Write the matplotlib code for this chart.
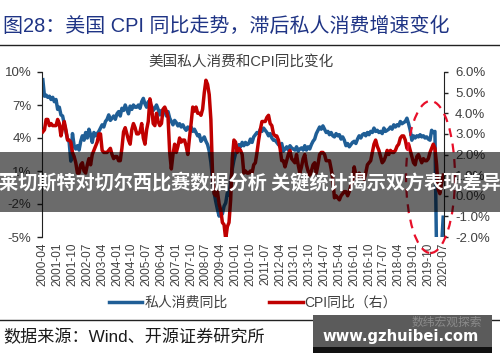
import matplotlib
matplotlib.use('Agg')
import matplotlib.pyplot as plt
from matplotlib.patches import Ellipse, Rectangle
import pandas as pd

plt.rcParams['font.family'] = ['Liberation Sans', 'Noto Sans CJK SC']

# monthly, 2000-04 .. 2020-07
months = pd.date_range('2000-04', periods=244, freq='MS').strftime('%Y-%m').tolist()

# 私人消费同比 (left axis, %)
pce = [9.3, 7.8, 7.9, 7.7, 7.8, 7.5, 7.7, 7.3, 7.5,
       6.6, 6.8, 6.1, 6.0, 5.3, 4.6, 3.9, 3.6, 1.9, 4.4, 3.3, 3.0,
       3.3, 2.9, 3.7, 4.2, 3.8, 4.5, 4.0, 4.8, 4.3, 3.6, 4.5, 4.2,
       4.4, 4.6, 4.9, 5.2, 5.0, 5.5, 5.7, 6.1, 5.6, 5.8, 6.0, 5.7,
       6.2, 6.4, 6.0, 6.7, 6.5, 7.0, 6.6, 6.2, 6.9, 6.6, 7.0, 6.8,
       6.8, 7.0, 6.7, 7.3, 7.6, 7.1, 6.8, 7.3, 6.6, 6.9, 6.5, 6.7,
       7.0, 6.6, 6.1, 6.5, 6.3, 6.5, 6.0, 6.4, 5.8, 5.5, 5.2, 5.6,
       5.4, 5.1, 5.3, 5.0, 5.2, 4.9, 4.7, 5.0, 4.8, 5.0, 4.6, 4.8,
       4.5, 4.2, 4.3, 3.7, 3.9, 4.1, 3.7, 3.4, 2.8, 1.8, 0.3, -1.0,
       -1.8, -2.5, -3.1, -2.6, -2.9, -2.2, -1.9, -1.0, -1.2, 0.0, 1.2, 2.0,
       2.6, 3.0, 3.4, 3.2, 3.6, 3.3, 3.6, 3.4, 3.5, 3.9, 3.6, 4.1,
       4.3, 4.5, 4.4, 4.8, 4.6, 4.9, 4.7, 4.5, 4.2, 4.4, 4.0, 3.8,
       3.8, 3.6, 3.4, 3.3, 3.5, 2.8, 3.0, 3.2, 2.9, 3.3, 3.1, 3.0,
       2.9, 3.2, 2.8, 3.0, 3.1, 2.9, 3.3, 2.9, 3.2, 3.0, 3.4, 3.7,
       3.9, 4.4, 4.7, 5.0, 4.8, 5.1, 4.8, 4.5, 4.6, 4.3, 4.5, 4.2,
       4.1, 4.4, 4.2, 4.3, 3.9, 4.1, 3.8, 3.3, 3.5, 3.2, 3.4, 3.6,
       3.7, 3.5, 3.9, 4.2, 4.0, 4.3, 4.4, 4.2, 4.5, 4.3, 4.6, 4.5,
       4.9, 4.6, 4.7, 4.5, 4.6, 4.4, 4.9, 4.6, 4.7, 4.8, 5.0, 4.8,
       5.2, 5.0, 5.2, 5.1, 5.5, 5.3, 5.4, 5.5, 5.8, 5.3, 4.7, 3.8,
       4.2, 4.0, 4.2, 4.1, 4.3, 4.1, 4.2, 4.0, 4.1, 3.9, 3.8, 4.7,
       4.5, 4.6, -7.0, -18.0, -10.0, -6.0, -3.2]

# CPI同比 (right axis, %)
cpi = [3.1, 3.2, 3.7, 3.7, 3.4, 3.5, 3.4, 3.4, 3.4,
       3.7, 3.5, 2.9, 3.3, 3.6, 3.2, 2.7, 2.7, 2.6, 2.1, 1.9, 1.6,
       1.1, 1.1, 1.5, 1.6, 1.2, 1.1, 1.5, 1.8, 1.5, 2.0, 2.2, 2.4,
       2.6, 3.0, 3.0, 2.2, 2.1, 2.1, 2.1, 2.2, 2.3, 2.0, 1.8, 1.9,
       1.9, 1.7, 1.7, 2.3, 3.1, 3.3, 3.0, 2.7, 2.5, 3.2, 3.5, 3.3,
       3.0, 3.0, 3.1, 3.5, 2.8, 2.5, 3.2, 3.6, 4.7, 4.3, 3.5, 3.4,
       4.0, 3.6, 3.4, 3.5, 4.2, 4.3, 4.1, 3.8, 2.1, 1.3, 2.0, 2.5,
       2.1, 2.4, 2.8, 2.6, 2.7, 2.7, 2.4, 2.0, 2.8, 3.5, 4.3, 4.1,
       4.3, 4.0, 4.0, 3.9, 4.2, 5.0, 5.6, 5.4, 4.9, 3.7, 1.1, 0.1,
       0.0, 0.2, -0.4, -0.7, -1.3, -1.4, -2.1, -1.5, -1.3, -0.2, 1.8, 2.7,
       2.6, 2.1, 2.3, 2.2, 2.0, 1.1, 1.2, 1.1, 1.1, 1.2, 1.1, 1.5,
       1.6, 2.1, 2.7, 3.2, 3.6, 3.6, 3.6, 3.8, 3.9, 3.5, 3.4, 3.0,
       2.9, 2.9, 2.7, 2.3, 1.7, 1.7, 1.4, 1.7, 2.0, 2.2, 1.8, 1.7,
       1.6, 2.0, 1.5, 1.1, 1.4, 1.8, 2.0, 1.5, 1.2, 1.0, 1.2, 1.5,
       1.6, 1.1, 1.5, 2.0, 2.1, 2.1, 2.0, 1.7, 1.7, 1.7, 1.3, 0.8,
       -0.1, 0.0, -0.1, -0.2, 0.0, 0.1, 0.2, 0.2, 0.0, 0.2, 0.5, 0.7,
       1.4, 1.0, 0.9, 1.1, 1.0, 1.0, 0.8, 1.1, 1.5, 1.6, 1.7, 2.1,
       2.5, 2.7, 2.4, 2.2, 1.9, 1.6, 1.7, 1.9, 2.2, 2.0, 2.2, 2.1,
       2.1, 2.2, 2.4, 2.5, 2.8, 2.9, 2.9, 2.7, 2.3, 2.5, 2.2, 1.9,
       1.6, 1.5, 1.9, 2.0, 1.8, 1.6, 1.8, 1.7, 1.7, 1.8, 2.1, 2.3,
       2.5, 2.3, 1.5, 0.3, 0.1, 0.6, 1.0]

left_ticks = [-5, -2, 1, 4, 7, 10]
right_ticks = [-2, -1, 0, 1, 2, 3, 4, 5, 6]

blue = '#1F5E96'
red = '#C00000'
grey = '#404040'

W, H = 500, 362
fig = plt.figure(figsize=(5, 3.62), dpi=100)

def fx(px):
    return px / W

def fy(py):
    return 1 - py / H

ax = fig.add_axes([fx(42), fy(237), fx(402), 165 / H])
ax2 = ax.twinx()

x = list(range(len(months)))
ax.plot(x, pce, color=blue, lw=2.5)
ax2.plot(x, cpi, color=red, lw=2.5)

ax.set_xlim(-0.5, len(months) - 0.5)
ax.set_ylim(-5, 10)
ax2.set_ylim(-2, 6)
ax.set_yticks(left_ticks)
ax.set_yticklabels([f'{v}%' for v in left_ticks])
ax2.set_yticks(right_ticks)
ax2.set_yticklabels([f'{v:.1f}%' for v in right_ticks])
ax.set_xticks(x[::9])
ax.set_xticklabels(months[::9], rotation=90)

for s in ['top', 'bottom', 'right']:
    ax.spines[s].set_visible(False)
for s in ['top', 'bottom', 'left']:
    ax2.spines[s].set_visible(False)
ax.spines['left'].set_color('#222222')
ax2.spines['right'].set_color('#222222')

ax.tick_params(axis='y', length=3.5, width=1, labelsize=9.5, colors='#222222',
               labelcolor=grey, pad=4)
ax2.tick_params(axis='y', length=3, width=1, labelsize=9.5, colors='#222222',
                labelcolor=grey, pad=5)
ax.tick_params(axis='x', length=0, labelsize=8.5, labelcolor=grey, pad=4)

# titles and notes
fig.text(fx(3), fy(26), '图28：美国 CPI 同比走势，滞后私人消费增速变化',
         fontsize=14.4, color='#1F3485', fontweight='normal', ha='left', va='center')
fig.add_artist(plt.Line2D([0, 1], [fy(45), fy(45)], color='#222222', lw=1))
fig.text(fx(241), fy(62), '美国私人消费和CPI同比变化', fontsize=10.5,
         color=grey, ha='center', va='center')

h1 = plt.Line2D([], [], color=blue, lw=2.5)
h2 = plt.Line2D([], [], color=red, lw=2.5)
fig.legend([h1, h2], ['私人消费同比', 'CPI同比（右）'], loc='center',
           bbox_to_anchor=(fx(253), fy(303)), ncol=2, frameon=False,
           fontsize=10, handlelength=2.4, handletextpad=0.15,
           columnspacing=3.0, labelcolor=grey)

fig.add_artist(plt.Line2D([0, 1], [fy(320), fy(320)], color='#222222', lw=1))
fig.text(fx(3), fy(337), '数据来源：Wind、开源证券研究所', fontsize=12.3,
         color='#1a1a1a', ha='left', va='center')

# red dashed ellipse
fig.add_artist(Ellipse((fx(430.5), fy(177)), 49 / W, 152 / H,
                       transform=fig.transFigure, fill=False, edgecolor='#E8102A',
                       lw=1.6, linestyle=(0, (4, 3)), zorder=5))

# overlay banner
fig.add_artist(Rectangle((0, fy(212)), 1, 60 / H, transform=fig.transFigure,
                         facecolor='black', alpha=0.58, edgecolor='none', zorder=10))
fig.text(0.5, fy(182), '莱切斯特对切尔西比赛数据分析 关键统计揭示双方表现差异',
         fontsize=13.8, fontweight='bold', color='white', ha='center', va='center',
         family=['Noto Sans CJK SC'], zorder=11)

# watermark box
fig.add_artist(Rectangle((fx(313), fy(353)), 179 / W, 38 / H, transform=fig.transFigure,
                         facecolor='#5b5b5b', edgecolor='none', zorder=10))
fig.add_artist(Rectangle((fx(313), fy(353)), 179 / W, 6 / H, transform=fig.transFigure,
                         facecolor='#111111', edgecolor='none', zorder=10))
fig.text(fx(447), fy(323), '数纬宏观探索', fontsize=8.5, color='#8a8a8a',
         ha='center', va='center', zorder=11)
fig.text(fx(401), fy(336), 'www.gzhuibei.com', fontsize=10.6, fontweight='bold',
         color='white', ha='center', va='center', family=['DejaVu Sans'], zorder=12)

fig.savefig('out.png', dpi=100)
